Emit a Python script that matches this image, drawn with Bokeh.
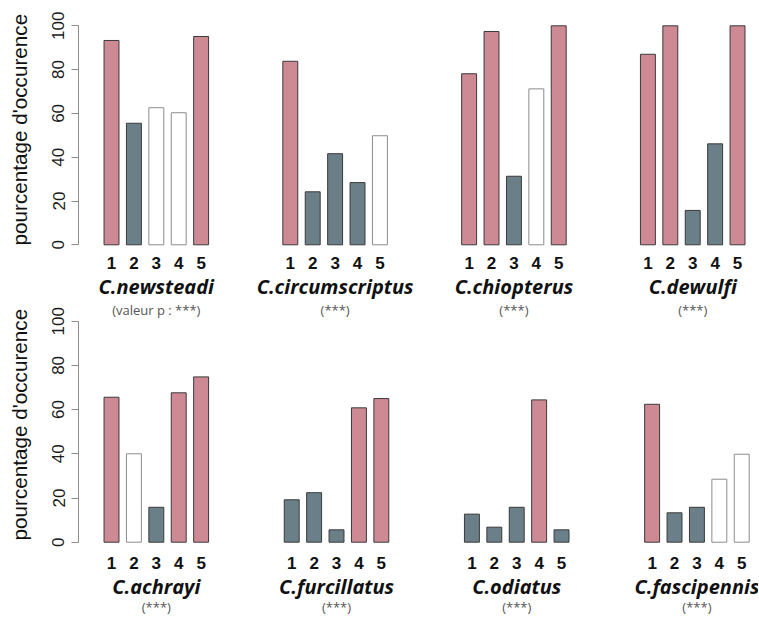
from bokeh.plotting import figure
from bokeh.models import ColumnDataSource, FixedTicker, Range1d, Title
from bokeh.core.properties import value
from bokeh.layouts import column
from bokeh.embed import file_html
from bokeh.resources import INLINE

# ---------------- data ----------------
periods = ["1", "2", "3", "4", "5"]

species_top = ["C.newsteadi", "C.circumscriptus", "C.chiopterus", "C.dewulfi"]
pvalue_top = ["(valeur p : ***)", "(***)", "(***)", "(***)"]
values_newsteadi = [93.3, 55.5, 62.6, 60.3, 95.1]
values_circumscriptus = [83.8, 24.2, 41.6, 28.4, 49.8]
values_chiopterus = [78.1, 97.4, 31.3, 71.2, 100.0]
values_dewulfi = [87.0, 100.0, 15.7, 46.1, 100.0]
# "+" : occurrence higher than expected, "-" : lower, "ns" : not significant
class_newsteadi = ["+", "-", "ns", "ns", "+"]
class_circumscriptus = ["+", "-", "-", "-", "ns"]
class_chiopterus = ["+", "+", "-", "ns", "+"]
class_dewulfi = ["+", "+", "-", "-", "+"]

species_bottom = ["C.achrayi", "C.furcillatus", "C.odiatus", "C.fascipennis"]
pvalue_bottom = ["(***)", "(***)", "(***)", "(***)"]
values_achrayi = [65.6, 40.0, 15.8, 67.6, 74.8]
values_furcillatus = [19.2, 22.4, 5.6, 60.8, 65.0]
values_odiatus = [12.7, 6.8, 15.8, 64.4, 5.6]
values_fascipennis = [62.4, 13.3, 15.8, 28.5, 39.8]
class_achrayi = ["+", "ns", "-", "+", "+"]
class_furcillatus = ["-", "-", "-", "+", "+"]
class_odiatus = ["-", "-", "-", "+", "-"]
class_fascipennis = ["+", "-", "-", "ns", "ns"]

y_ticks = [0, 20, 40, 60, 80, 100]
y_label = "pourcentage d'occurence"

# ---------------- styling / layout ----------------
FILL = {"+": "#CD8A94", "-": "#6A7F88", "ns": "#FFFFFF"}
LINE = {"+": "#3A3A3A", "-": "#3A3A3A", "ns": "#8C8C8C"}
PX_PER_X = 18.67
FIRST, STEP, BAR_W = 0.7, 1.2, 0.8
X_START = -1.068
LEFT = 78
FRAME_W = 680
X_END = X_START + FRAME_W / PX_PER_X
STRIDE_TOP = 9.577
STRIDE_BOTTOM = 9.652
WIDTH = LEFT + FRAME_W

# vertical geometry (screen pixels)
TOP_H, TOP_BORDER = 302, 16
BOT_H = 314
TOP_PX_PER_Y, TOP_ZERO = 2.19, 244.3
BOT_PX_PER_Y, BOT_ZERO = 2.21, 541.7
# text baselines (screen px), corrected for the renderer's baseline offset
DIGIT_BASE_TOP, DIGIT_BASE_BOT = 268.3 - 6.0, 568.3 - 6.0
SPECIES_BASE_TOP, SPECIES_BASE_BOT = 293.3 - 7.0, 593.3 - 7.0
PVAL_BASE_TOP, PVAL_BASE_BOT = 313.7 - 4.7, 611.5 - 4.7
# y-axis title: start of the text (screen px)
YLABEL_START_TOP, YLABEL_START_BOT = 245.0, 540.0


def bar_positions(stride, n):
    return [[p * stride + FIRST + k * STEP for k in range(len(periods))] for p in range(n)]


def centre_positions(stride, n):
    return [p * stride + FIRST + 2 * STEP for p in range(n)]


def make_row(values, classes, species, stride, fig_top, height, top_border,
             zero, px_per_y, digit_base, species_base, ylabel_start):
    frame_top = fig_top + top_border
    frame_bot = fig_top + height
    to_y = lambda s: (zero - s) / px_per_y
    p = figure(x_range=Range1d(X_START, X_END),
               y_range=Range1d(to_y(frame_bot), to_y(frame_top)),
               width=WIDTH, height=height,
               min_border_left=LEFT, min_border_right=0, min_border_top=top_border,
               min_border_bottom=0, toolbar_location=None, output_backend="svg",
               x_axis_type=None)
    p.grid.visible = False
    p.outline_line_color = None
    p.background_fill_color = "white"
    p.border_fill_color = "white"

    xs = bar_positions(stride, len(values))
    flat_x, flat_top, flat_fill, flat_line, flat_lab = [], [], [], [], []
    for px, vals, cls in zip(xs, values, classes):
        flat_x += px
        flat_top += vals
        flat_fill += [FILL[c] for c in cls]
        flat_line += [LINE[c] for c in cls]
        flat_lab += periods
    src = ColumnDataSource(dict(x=flat_x, top=flat_top, fill=flat_fill,
                                line=flat_line, lab=flat_lab))
    p.vbar(x="x", top="top", bottom=0, width=BAR_W, fill_color="fill",
           line_color="line", line_width=1, source=src)

    # period numbers under the bars
    p.text(x="x", y=to_y(digit_base), text="lab", source=src,
           text_font=value("Liberation Sans"), text_font_size="17px",
           text_font_style="bold", text_color="#111111",
           text_align="center", text_baseline="alphabetic")
    # species names
    p.text(x=centre_positions(stride, len(values)), y=to_y(species_base),
           text=species, text_font=value("Open Sans"), text_font_size="20px",
           text_font_style="bold italic", text_color="#111111",
           text_align="center", text_baseline="alphabetic")

    # y axis (ticks)
    ya = p.yaxis[0]
    ya.ticker = FixedTicker(ticks=y_ticks)
    ya.bounds = (0, 100)
    ya.major_label_orientation = "vertical"
    ya.axis_line_color = "#8C8C8C"
    ya.major_tick_line_color = "#8C8C8C"
    ya.minor_tick_line_color = None
    ya.major_tick_out = 7
    ya.major_tick_in = 0
    ya.major_label_standoff = 7
    ya.major_label_text_font = "Arial"
    ya.major_label_text_font_size = "17px"
    ya.major_label_text_color = "#1A1A1A"
    # blank spacer label: widens the axis panel so the title sits further left
    ya.axis_label = " "
    ya.axis_label_text_font_size = "1px"
    ya.axis_label_standoff = 10

    # y axis title
    ytitle = Title(text=y_label, align="left", offset=frame_bot - ylabel_start,
                   standoff=10, text_font="Arial", text_font_size="20.7px",
                   text_font_style="normal", text_color="#111111")
    p.add_layout(ytitle, "left")
    return p, to_y


top, _ = make_row([values_newsteadi, values_circumscriptus, values_chiopterus, values_dewulfi],
                  [class_newsteadi, class_circumscriptus, class_chiopterus, class_dewulfi],
                  species_top, STRIDE_TOP, 0, TOP_H, TOP_BORDER,
                  TOP_ZERO, TOP_PX_PER_Y, DIGIT_BASE_TOP, SPECIES_BASE_TOP, YLABEL_START_TOP)

bottom, to_y_bot = make_row([values_achrayi, values_furcillatus, values_odiatus, values_fascipennis],
                            [class_achrayi, class_furcillatus, class_odiatus, class_fascipennis],
                            species_bottom, STRIDE_BOTTOM, TOP_H, BOT_H, 0,
                            BOT_ZERO, BOT_PX_PER_Y, DIGIT_BASE_BOT, SPECIES_BASE_BOT,
                            YLABEL_START_BOT)

# significance notes: upper row (drawn at the top of the lower figure) and lower row
bottom.text(x=centre_positions(STRIDE_TOP, 4), y=to_y_bot(PVAL_BASE_TOP),
            text=pvalue_top, text_font=value("Open Sans"), text_font_size="13px",
            text_color="#555555", text_align="center", text_baseline="alphabetic")
bottom.text(x=centre_positions(STRIDE_BOTTOM, 4), y=to_y_bot(PVAL_BASE_BOT),
            text=pvalue_bottom, text_font=value("Open Sans"), text_font_size="13px",
            text_color="#555555", text_align="center", text_baseline="alphabetic")

layout = column(top, bottom, spacing=0)
open("out.html", "w").write(file_html(layout, INLINE))
